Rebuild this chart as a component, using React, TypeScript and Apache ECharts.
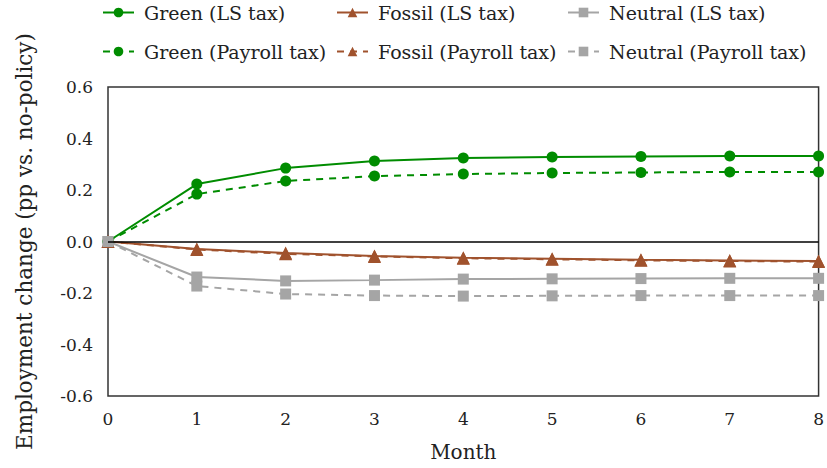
import React, { useEffect, useRef } from "react";
import * as echarts from "echarts";

const months = [0, 1, 2, 3, 4, 5, 6, 7, 8];
const greenLS = [0, 0.223, 0.285, 0.313, 0.324, 0.328, 0.33, 0.332, 0.332];
const greenPay = [0, 0.184, 0.235, 0.254, 0.262, 0.266, 0.268, 0.27, 0.27];
const fossilLS = [0, -0.029, -0.045, -0.056, -0.063, -0.067, -0.071, -0.074, -0.076];
const fossilPay = [0, -0.031, -0.048, -0.058, -0.065, -0.069, -0.073, -0.076, -0.078];
const neutralLS = [0, -0.138, -0.153, -0.15, -0.146, -0.145, -0.144, -0.143, -0.143];
const neutralPay = [0, -0.173, -0.204, -0.21, -0.212, -0.211, -0.21, -0.21, -0.21];

const GREEN = "#008c00";
const FOSSIL = "#a0522d";
const GREY = "#a5a5a5";
const FONT = "DejaVu Serif";

const pts = (arr: number[]) => months.map((m, i) => [m, arr[i]]);

export default function App() {
  const ref = useRef<HTMLDivElement>(null);
  useEffect(() => {
    const chart = echarts.init(ref.current!, undefined, { renderer: "svg" });
    const mk = (name: string, data: number[], color: string, dashed: boolean, symbol: string, size: number, extra: any = {}) => ({
      name,
      type: "line",
      data: pts(data),
      symbol,
      symbolSize: size,
      itemStyle: { color },
      lineStyle: { color, width: 2, type: dashed ? [7, 6] : "solid" },
      z: dashed ? 3 : 4,
      ...extra,
    });
    const legendText = { fontFamily: FONT, fontSize: 19, color: "#222", padding: [0, 0, 0, 5] };
    const leg = (name: string, left: number, top: number) => ({
      data: [name],
      left,
      top,
      itemWidth: 31,
      itemHeight: 12,
      itemGap: 6,
      padding: 0,
      textStyle: legendText,
      selectedMode: false,
    });
    chart.setOption({
      animation: false,
      backgroundColor: "#fff",
      textStyle: { fontFamily: FONT },
      legend: [
        leg("Green (LS tax)", 102, 3),
        leg("Fossil (LS tax)", 336, 3),
        leg("Neutral (LS tax)", 567, 3),
        leg("Green (Payroll tax)", 102, 42),
        leg("Fossil (Payroll tax)", 336, 42),
        leg("Neutral (Payroll tax)", 567, 42),
      ],
      grid: {
        left: 108,
        right: 7,
        top: 87,
        bottom: 72,
        show: true,
        borderColor: "#333",
        borderWidth: 1.5,
        backgroundColor: "transparent",
      },
      xAxis: {
        type: "value",
        min: 0,
        max: 8,
        interval: 1,
        name: "Month",
        nameLocation: "middle",
        nameGap: 46,
        nameTextStyle: { fontFamily: FONT, fontSize: 20, color: "#222" },
        axisLine: { show: false },
        axisTick: { show: false },
        splitLine: { show: false },
        axisLabel: { fontFamily: FONT, fontSize: 17, color: "#222", margin: 14 },
      },
      yAxis: {
        type: "value",
        min: -0.6,
        max: 0.6,
        interval: 0.2,
        name: "Employment change (pp vs. no-policy)",
        nameLocation: "middle",
        nameGap: 73,
        nameTextStyle: { fontFamily: FONT, fontSize: 21.5, color: "#222" },
        axisLine: { show: false },
        axisTick: { show: false },
        splitLine: { show: false },
        axisLabel: {
          fontFamily: FONT,
          fontSize: 17,
          color: "#222",
          margin: 15,
          formatter: (v: number) => v.toFixed(1),
        },
      },
      series: [
        mk("Green (LS tax)", greenLS, GREEN, false, "circle", 11, {
          markLine: {
            silent: true,
            symbol: "none",
            label: { show: false },
            lineStyle: { color: "#000", width: 1.5, type: "solid" },
            data: [{ yAxis: 0 }],
          },
        }),
        mk("Fossil (LS tax)", fossilLS, FOSSIL, false, "triangle", 13),
        mk("Neutral (LS tax)", neutralLS, GREY, false, "rect", 11),
        mk("Green (Payroll tax)", greenPay, GREEN, true, "circle", 11),
        mk("Fossil (Payroll tax)", fossilPay, FOSSIL, true, "triangle", 13),
        mk("Neutral (Payroll tax)", neutralPay, GREY, true, "rect", 11),
      ],
    });
    return () => chart.dispose();
  }, []);
  return <div ref={ref} style={{ position: "absolute", left: 0, top: 0, width: 827, height: 468 }} />;
}
